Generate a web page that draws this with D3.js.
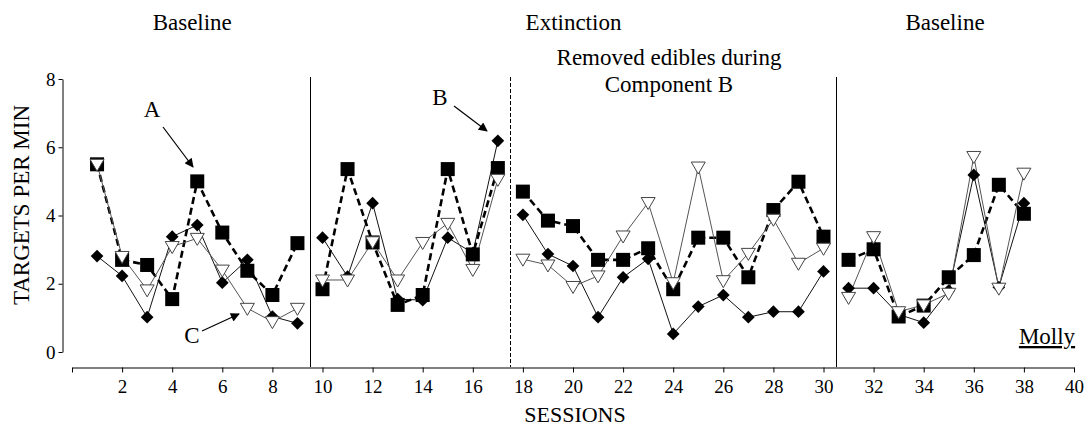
<!DOCTYPE html>
<html>
<head>
<meta charset="utf-8">
<script src="https://cdn.jsdelivr.net/npm/d3@7"></script>
<style>
  html, body { margin: 0; padding: 0; background: #fff; }
  svg { display: block; font-family: "Liberation Serif", "Times New Roman", serif; }
</style>
</head>
<body>
<svg id="chart" width="1087" height="429"></svg>
<script>
// ---- data ----
const sessions   = [1,2,3,4,5,6,7,8,9, 10,11,12,13,14,15,16,17, 18,19,20,21,22,23,24,25,26,27,28,29,30, 31,32,33,34,35,36,37,38];
const phaseOf    = [0,0,0,0,0,0,0,0,0, 1,1,1,1,1,1,1,1, 2,2,2,2,2,2,2,2,2,2,2,2,2, 3,3,3,3,3,3,3,3];
// Component A (filled squares, dashed line)
const componentA = [5.5,2.7,2.55,1.55,5.0,3.5,2.38,1.67,3.19, 1.84,5.36,3.21,1.38,1.67,5.36,2.86,5.39, 4.7,3.85,3.69,2.7,2.7,3.04,1.84,3.35,3.35,2.19,4.16,4.99,3.38, 2.7,3.01,1.04,1.36,2.19,2.84,4.9,4.05];
// Component B (filled diamonds, solid line)
const componentB = [2.81,2.23,1.02,3.38,3.72,2.03,2.7,1.04,0.84, 3.35,2.21,4.36,1.55,1.52,3.35,2.9,6.19, 4.02,2.87,2.52,1.02,2.19,2.73,0.53,1.33,1.67,1.02,1.18,1.18,2.36, 1.87,1.87,1.1,0.86,1.8,5.19,1.9,4.36];
// Component C (open triangles, solid line)
const componentC = [5.5,2.8,1.82,3.09,3.33,2.4,1.28,0.89,1.28, 2.11,2.11,3.23,2.11,3.21,3.77,2.42,5.06, 2.72,2.55,1.92,2.23,3.4,4.38,2.03,5.42,2.09,2.89,3.89,2.6,3.04, 1.6,3.38,1.18,1.38,1.72,5.73,1.87,5.24];

const yTicks = [0,2,4,6,8];
const xTicks = [0,2,4,6,8,10,12,14,16,18,20,22,24,26,28,30,32,34,36,38,40];
const phaseBreaks = [9.5, 17.5, 30.5];
const phaseBreakDashed = [false, true, false];
const phaseLabels = [
  {text: "Baseline", at: 4.8},
  {text: "Extinction", at: 20.02},
  {text: "Baseline", at: 34.85}
];
const noteLines = ["Removed edibles during", "Component B"];

// ---- layout ----
const svg = d3.select("#chart");
const x = d3.scaleLinear().domain([0, 40]).range([72, 1074]);
const y = d3.scaleLinear().domain([0, 8]).range([352, 79]);
const yAxisX = 62, xAxisY = 367;
const font = '"Liberation Serif", "Times New Roman", serif';

// arrowhead
svg.append("defs").append("marker")
  .attr("id", "arrow").attr("viewBox", "0 0 10 10")
  .attr("refX", 9).attr("refY", 5)
  .attr("markerWidth", 11).attr("markerHeight", 9)
  .attr("markerUnits", "userSpaceOnUse")
  .attr("orient", "auto")
  .append("path").attr("d", "M0,0 L10,5 L0,10 Z").attr("fill", "#000");

// axes
const yAxis = d3.axisLeft(y).tickValues(yTicks).tickSize(4).tickSizeOuter(0).tickPadding(3);
const gy = svg.append("g").attr("transform", `translate(${yAxisX + 0.5},0)`).call(yAxis);
gy.selectAll("text").attr("font-family", font).attr("font-size", 19).attr("fill", "#000");
gy.selectAll("line,path").attr("stroke", "#000");

const xAxis = d3.axisBottom(x).tickValues(xTicks).tickFormat(d => d === 0 ? "" : d)
  .tickSize(5).tickSizeOuter(0).tickPadding(7);
const gx = svg.append("g").attr("transform", `translate(0,${xAxisY + 0.5})`).call(xAxis);
gx.selectAll("text").attr("font-family", font).attr("font-size", 19).attr("fill", "#000");
gx.selectAll("line,path").attr("stroke", "#000");

// axis titles
svg.append("text").attr("transform", `translate(29,205) rotate(-90)`)
  .attr("text-anchor", "middle").attr("font-size", 23).attr("font-family", font)
  .text("TARGETS PER MIN");
svg.append("text").attr("x", 575).attr("y", 422)
  .attr("text-anchor", "middle").attr("font-size", 22).attr("font-family", font)
  .text("SESSIONS");

// phase lines
phaseBreaks.forEach((b, i) => {
  const px = Math.round(x(b)) + 0.5;
  svg.append("line")
    .attr("x1", px).attr("x2", px)
    .attr("y1", 77).attr("y2", xAxisY)
    .attr("stroke", "#000").attr("stroke-width", 1)
    .attr("stroke-dasharray", phaseBreakDashed[i] ? "4,2" : null);
});

// phase labels
phaseLabels.forEach(p => {
  svg.append("text").attr("x", x(p.at)).attr("y", 30)
    .attr("text-anchor", "middle").attr("font-size", 23).attr("font-family", font)
    .text(p.text);
});
noteLines.forEach((t, i) => {
  svg.append("text").attr("x", 669).attr("y", 65 + i * 27)
    .attr("text-anchor", "middle").attr("font-size", 23).attr("font-family", font)
    .text(t);
});

// series
const rows = sessions.map((s, i) => ({s, p: phaseOf[i], a: componentA[i], b: componentB[i], c: componentC[i]}));
const phases = d3.groups(rows, d => d.p).map(g => g[1]);

const series = [
  {key: "b", stroke: "#111", width: 1, dash: null},
  {key: "a", stroke: "#000", width: 2.6, dash: "7,4"},
  {key: "c", stroke: "#555", width: 1, dash: null}
];
const gLines = svg.append("g");
series.forEach(sr => {
  const line = d3.line().x(d => x(d.s)).y(d => y(d[sr.key]));
  phases.forEach(ph => {
    gLines.append("path").attr("d", line(ph))
      .attr("fill", "none").attr("stroke", sr.stroke)
      .attr("stroke-width", sr.width)
      .attr("stroke-dasharray", sr.dash);
  });
});

// markers: diamonds, squares, triangles
const gm = svg.append("g");
gm.selectAll(".dia").data(rows).enter().append("path")
  .attr("d", d3.symbol().type(d3.symbolSquare).size(81)())
  .attr("transform", d => `translate(${x(d.s)},${y(d.b)}) rotate(45)`)
  .attr("fill", "#000");
gm.selectAll(".sq").data(rows).enter().append("rect")
  .attr("x", d => x(d.s) - 7).attr("y", d => y(d.a) - 7)
  .attr("width", 14).attr("height", 14).attr("fill", "#000");
gm.selectAll(".tri").data(rows).enter().append("path")
  .attr("d", d => {
    const cx = x(d.s), cy = y(d.c);
    return `M${cx-7},${cy-5} L${cx+7},${cy-5} L${cx},${cy+7} Z`;
  })
  .attr("fill", "#fff").attr("stroke", "#444").attr("stroke-width", 1);

// annotations
const notes = [
  {t: "A", tx: 152, ty: 117, x1: 163, y1: 127, x2: 193, y2: 167},
  {t: "B", tx: 440, ty: 105, x1: 454, y1: 106, x2: 487, y2: 131},
  {t: "C", tx: 192, ty: 343, x1: 202, y1: 331, x2: 239, y2: 314}
];
notes.forEach(n => {
  svg.append("text").attr("x", n.tx).attr("y", n.ty).attr("text-anchor", "middle")
    .attr("font-size", 23).attr("font-family", font).text(n.t);
  svg.append("line").attr("x1", n.x1).attr("y1", n.y1).attr("x2", n.x2).attr("y2", n.y2)
    .attr("stroke", "#000").attr("stroke-width", 1.2).attr("marker-end", "url(#arrow)");
});

// subject name
svg.append("text").attr("x", 1047).attr("y", 344).attr("text-anchor", "middle")
  .attr("font-size", 23).attr("font-family", font).attr("text-decoration", "underline")
  .text("Molly");
</script>
</body>
</html>
